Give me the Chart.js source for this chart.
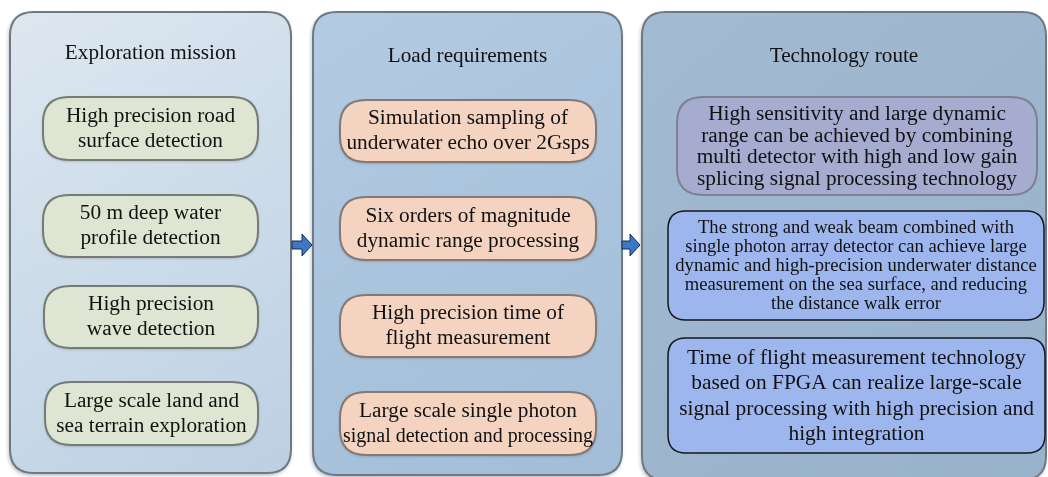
<!DOCTYPE html>
<html>
<head>
<meta charset="utf-8">
<script src="https://cdn.jsdelivr.net/npm/chart.js@4.4.0/dist/chart.umd.min.js"></script>
<style>
  html, body { margin: 0; padding: 0; background: #ffffff; }
  #wrap { width: 1048px; height: 477px; }
</style>
</head>
<body>
<div id="wrap"><canvas id="flow" width="1048" height="477"></canvas></div>
<script>
// column headings
const columnTitles = ['Exploration mission', 'Load requirements', 'Technology route'];

// box texts, one array of lines per box
const missionItems = [
  ['High precision road', 'surface detection'],
  ['50 m deep water', 'profile detection'],
  ['High precision', 'wave detection'],
  ['Large scale land and', 'sea terrain exploration']
];
const loadItems = [
  ['Simulation sampling of', 'underwater echo over 2Gsps'],
  ['Six orders of magnitude', 'dynamic range processing'],
  ['High precision time of', 'flight measurement'],
  ['Large scale single photon', 'signal detection and processing']
];
const routeItems = [
  ['High sensitivity and large dynamic', 'range can be achieved by combining',
   'multi detector with high and low gain', 'splicing signal processing technology'],
  ['The strong and weak beam combined with', 'single photon array detector can achieve large',
   'dynamic and high-precision underwater distance', 'measurement on the sea surface, and reducing',
   'the distance walk error'],
  ['Time of flight measurement technology', 'based on FPGA can realize large-scale',
   'signal processing with high precision and', 'high integration']
];

// layout (scale units == pixels, axes span the whole canvas)
const panels = [
  { x0: 10, x1: 291, y0: 12, y1: 473, fill: ['#dde7f0', '#bcd0e3'], titleY: 53 },
  { x0: 313, x1: 622, y0: 12, y1: 475, fill: ['#b3cbe2', '#a2bdd8'], titleY: 56 },
  { x0: 642, x1: 1046, y0: 12, y1: 480, fill: ['#a2bad2', '#98b2ca'], titleY: 56 }
];
const missionBoxes = [[43, 258, 97, 160], [43, 258, 195, 257], [44, 258, 286, 348], [45, 258, 382, 445]];
const loadBoxes = [[340, 596, 100, 162], [340, 596, 197, 260], [340, 596, 295, 357], [340, 596, 392, 455]];
const routeBoxes = [[677, 1037, 97, 195], [668, 1044, 211, 320], [668, 1045, 338, 453]];
const arrows = [[292, 312, 245], [622, 640, 245]];

const SERIF = '"Liberation Serif", "Times New Roman", "DejaVu Serif", serif';

function roundRect(ctx, x0, y0, x1, y1, r) {
  ctx.beginPath();
  ctx.moveTo(x0 + r, y0);
  ctx.lineTo(x1 - r, y0);
  ctx.quadraticCurveTo(x1, y0, x1, y0 + r);
  ctx.lineTo(x1, y1 - r);
  ctx.quadraticCurveTo(x1, y1, x1 - r, y1);
  ctx.lineTo(x0 + r, y1);
  ctx.quadraticCurveTo(x0, y1, x0, y1 - r);
  ctx.lineTo(x0, y0 + r);
  ctx.quadraticCurveTo(x0, y0, x0 + r, y0);
  ctx.closePath();
}

function drawLines(ctx, lines, cx, cy, size, lh, maxW) {
  ctx.font = size + 'px ' + SERIF;
  ctx.fillStyle = '#111111';
  ctx.textAlign = 'center';
  ctx.textBaseline = 'middle';
  const top = cy - (lines.length - 1) * lh / 2;
  lines.forEach((t, i) => {
    if (maxW) ctx.fillText(t, cx, top + i * lh, maxW);
    else ctx.fillText(t, cx, top + i * lh);
  });
}

const flowPlugin = {
  id: 'flow',
  beforeDatasetsDraw(chart) {
    const ctx = chart.ctx;
    const xs = chart.scales.x, ys = chart.scales.y;
    const X = v => xs.getPixelForValue(v);
    const Y = v => ys.getPixelForValue(v);

    // big panels
    panels.forEach((p, i) => {
      const x0 = X(p.x0), x1 = X(p.x1), y0 = Y(p.y0), y1 = Y(p.y1);
      ctx.save();
      ctx.shadowColor = 'rgba(60,70,80,0.45)';
      ctx.shadowBlur = 4;
      ctx.shadowOffsetX = -1;
      ctx.shadowOffsetY = 2;
      const g = ctx.createLinearGradient(x0, y0, x1, y1);
      g.addColorStop(0, p.fill[0]);
      g.addColorStop(1, p.fill[1]);
      roundRect(ctx, x0, y0, x1, y1, 24);
      ctx.fillStyle = g;
      ctx.fill();
      ctx.restore();
      roundRect(ctx, x0, y0, x1, y1, 24);
      ctx.lineWidth = 2;
      ctx.strokeStyle = '#6e7984';
      ctx.stroke();
      drawLines(ctx, [columnTitles[i]], (x0 + x1) / 2, Y(p.titleY), 21.2, 24);
    });

    // pill boxes of first two columns
    const pill = (b, fill, stroke, lines) => {
      const x0 = X(b[0]), x1 = X(b[1]), y0 = Y(b[2]), y1 = Y(b[3]);
      ctx.save();
      ctx.shadowColor = 'rgba(40,40,40,0.35)';
      ctx.shadowBlur = 3;
      ctx.shadowOffsetY = 1;
      roundRect(ctx, x0, y0, x1, y1, 26);
      ctx.fillStyle = fill;
      ctx.fill();
      ctx.restore();
      roundRect(ctx, x0, y0, x1, y1, 26);
      ctx.lineWidth = 2;
      ctx.strokeStyle = stroke;
      ctx.stroke();
      drawLines(ctx, lines, (x0 + x1) / 2, (y0 + y1) / 2, 21.3, 25, x1 - x0 - 6);
    };
    missionBoxes.forEach((b, i) => pill(b, '#dfe5d3', '#767c74', missionItems[i]));
    loadBoxes.forEach((b, i) => pill(b, '#f4d4c1', '#857a73', loadItems[i]));

    // technology route boxes
    const routeStyle = [
      { fill: '#a6abd0', stroke: '#7d8190', r: 26, size: 21.3, lh: 21.5, lw: 2 },
      { fill: '#9db7ee', stroke: '#15171f', r: 18, size: 18.6, lh: 19, lw: 1.5 },
      { fill: '#9db7ee', stroke: '#15171f', r: 18, size: 21.4, lh: 25.5, lw: 1.5 }
    ];
    routeBoxes.forEach((b, i) => {
      const s = routeStyle[i];
      const x0 = X(b[0]), x1 = X(b[1]), y0 = Y(b[2]), y1 = Y(b[3]);
      roundRect(ctx, x0, y0, x1, y1, s.r);
      ctx.fillStyle = s.fill;
      ctx.fill();
      ctx.lineWidth = s.lw;
      ctx.strokeStyle = s.stroke;
      ctx.stroke();
      drawLines(ctx, routeItems[i], (x0 + x1) / 2, (y0 + y1) / 2 + 1, s.size, s.lh, x1 - x0 - 8);
    });

    // arrows between columns
    arrows.forEach(a => {
      const x0 = X(a[0]), x1 = X(a[1]), cy = Y(a[2]);
      const hx = x1 - 10;
      ctx.beginPath();
      ctx.moveTo(x0, cy - 4);
      ctx.lineTo(hx, cy - 4);
      ctx.lineTo(hx, cy - 11);
      ctx.lineTo(x1, cy);
      ctx.lineTo(hx, cy + 11);
      ctx.lineTo(hx, cy + 4);
      ctx.lineTo(x0, cy + 4);
      ctx.closePath();
      ctx.fillStyle = '#3b78c8';
      ctx.fill();
      ctx.lineWidth = 1;
      ctx.strokeStyle = '#1b2c48';
      ctx.stroke();
    });
  }
};

new Chart(document.getElementById('flow'), {
  type: 'scatter',
  data: { datasets: [{ data: [], showLine: false }] },
  options: {
    responsive: false,
    animation: false,
    layout: { padding: 0 },
    plugins: { legend: { display: false }, tooltip: { enabled: false } },
    scales: {
      x: { type: 'linear', min: 0, max: 1048, display: false },
      y: { type: 'linear', min: 0, max: 477, reverse: true, display: false }
    }
  },
  plugins: [flowPlugin]
});
</script>
</body>
</html>
